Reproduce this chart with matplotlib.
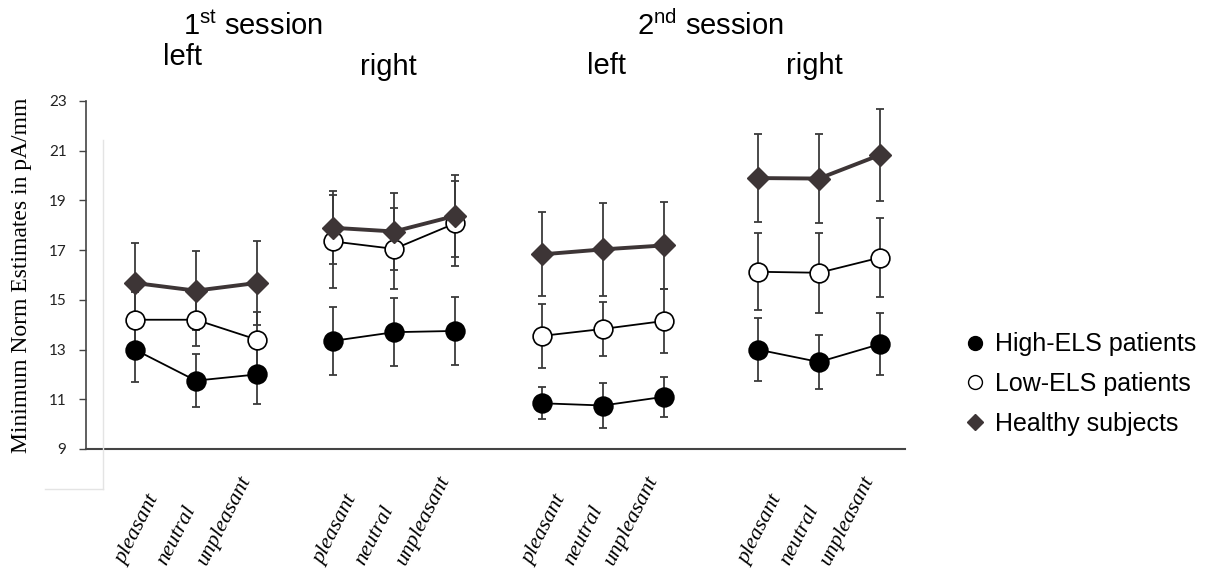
import matplotlib
matplotlib.use('Agg')
import matplotlib.pyplot as plt
import matplotlib.transforms as mtransforms
from matplotlib.lines import Line2D

# conditions inside every panel
conditions = ['pleasant', 'neutral', 'unpleasant']
# panels: 1st session left, 1st session right, 2nd session left, 2nd session right
panel_hemis = ['left', 'right', 'left', 'right']
sessions = ['1$^{\\mathrm{st}}$ session', '2$^{\\mathrm{nd}}$ session']

high_mean = [[13.0, 11.75, 12.0], [13.35, 13.7, 13.75], [10.84, 10.75, 11.1], [13.0, 12.5, 13.22]]
high_err = [[1.3, 1.07, 1.2], [1.37, 1.36, 1.37], [0.65, 0.89, 0.8], [1.26, 1.1, 1.24]]
low_mean = [[14.2, 14.2, 13.4], [17.35, 17.05, 18.08], [13.55, 13.83, 14.15], [16.13, 16.09, 16.7]]
low_err = [[1.1, 1.07, 1.1], [1.88, 1.63, 1.7], [1.3, 1.1, 1.3], [1.55, 1.6, 1.6]]
healthy_mean = [[15.68, 15.37, 15.68], [17.9, 17.75, 18.38], [16.83, 17.03, 17.19], [19.9, 19.88, 20.83]]
healthy_err = [[1.62, 1.6, 1.68], [1.47, 1.54, 1.65], [1.69, 1.86, 1.75], [1.78, 1.79, 1.84]]

series_names = ['High-ELS patients', 'Low-ELS patients', 'Healthy subjects']

plt.rcParams['mathtext.fontset'] = 'custom'
plt.rcParams['mathtext.rm'] = 'Liberation Sans'

W, H = 1214, 571
fig = plt.figure(figsize=(W / 100, H / 100), dpi=100)


def fx(px):
    return px / W


def fy(py):
    return 1 - py / H


ax = fig.add_axes([fx(86), fy(449), fx(905 - 86), (449 - 101) / H])

# layout of the x positions (one unit ~ spacing of conditions)
group_start = [0, 3.25, 6.67, 10.21]
xs = [[g + i for i in range(len(conditions))] for g in group_start]

styles = [
    dict(marker='o', ms=13.5, mfc='black', mec='black', mew=1.2, color='black', lw=1.3),
    dict(marker='o', ms=13.5, mfc='white', mec='black', mew=1.2, color='black', lw=1.3),
    dict(marker='D', ms=11, mfc='#3d3536', mec='#3d3536', mew=1, color='#3d3536', lw=2.8),
]
means = [high_mean, low_mean, healthy_mean]
errs = [high_err, low_err, healthy_err]

# error bars first, below everything
for m, e in zip(means, errs):
    for g in range(len(group_start)):
        ax.errorbar(xs[g], m[g], yerr=e[g], fmt='none', ecolor='#3a3a3a',
                    elinewidth=1.3, capsize=3, capthick=1.3, zorder=1)

for k, (m, st) in enumerate(zip(means, styles)):
    for g in range(len(group_start)):
        ax.plot(xs[g], m[g], zorder=3 + k, **st)

ax.set_ylim(9, 23)
ax.set_xlim(-0.8, 12.62)
ax.set_yticks(range(9, 24, 2))
ax.set_xticks([])
for s in ['top', 'right']:
    ax.spines[s].set_visible(False)
ax.spines['left'].set_color('#444444')
ax.spines['left'].set_linewidth(1.2)
ax.spines['bottom'].set_color('#444444')
ax.spines['bottom'].set_linewidth(1.5)
ax.tick_params(axis='y', direction='out', length=5, width=1, color='#444444',
               pad=9, labelsize=11, labelcolor='#222222')
for lab in ax.get_yticklabels():
    lab.set_family('Lato')

ax.set_ylabel('Minimum Norm Estimates in pA/mm', family='Liberation Serif',
              fontsize=17, labelpad=12)

# rotated condition labels below the axis
blend = mtransforms.blended_transform_factory(ax.transData, fig.transFigure)
for g in range(len(group_start)):
    for i, cond in enumerate(conditions):
        t = mtransforms.offset_copy(blend, fig=fig, x=-10 + 41 * i, y=0, units='dots')
        ax.text(xs[g][0], fy(566), cond, transform=t, rotation=63,
                rotation_mode='anchor', ha='left', va='baseline',
                fontsize=16, fontstyle='italic', family='Liberation Serif',
                clip_on=False)

# session / hemisphere headings
title_kw = dict(family='Liberation Sans', fontsize=21, va='baseline', ha='left')
fig.text(fx(183), fy(35), sessions[0], **title_kw)
fig.text(fx(637), fy(35), sessions[1], **title_kw)
hemi_pos = [(163, 65), (360, 75), (587, 74), (786, 74)]
for name, (px, py) in zip(panel_hemis, hemi_pos):
    fig.text(fx(px), fy(py), name, **title_kw)

# faint frame remnants
fig.add_artist(Line2D([fx(103), fx(103)], [fy(140), fy(489)], color='#e4e4e4', lw=1))
fig.add_artist(Line2D([fx(45), fx(103)], [fy(489), fy(489)], color='#e4e4e4', lw=1))

handles = [
    Line2D([], [], ls='none', marker='o', ms=10, mfc='black', mec='black', mew=1),
    Line2D([], [], ls='none', marker='o', ms=10, mfc='white', mec='black', mew=1),
    Line2D([], [], ls='none', marker='D', ms=8, mfc='#3d3536', mec='#3d3536'),
]
fig.legend(handles, series_names, loc='center left', bbox_to_anchor=(fx(965), fy(384)),
           frameon=False, borderaxespad=0, borderpad=0, handlelength=0.8,
           handletextpad=0.4, labelspacing=0.62,
           prop={'family': 'Liberation Sans', 'size': 18})

fig.savefig('out.png', dpi=100)
